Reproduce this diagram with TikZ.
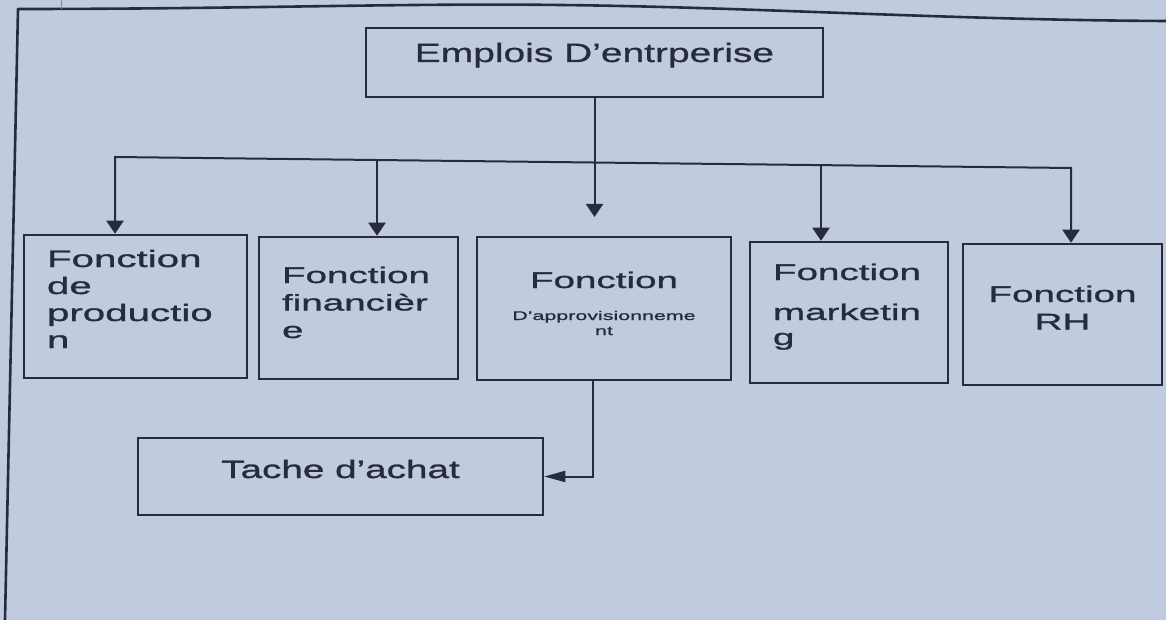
\documentclass[tikz,border=0pt]{standalone}
\usepackage{fontspec}
\setmainfont{Liberation Sans}
\newfontfamily\boxfont[FakeStretch=1.7,FakeBold=1.2]{Liberation Sans}
\newfontfamily\headfont[FakeStretch=1.47,FakeBold=0.8]{Liberation Sans}
\newfontfamily\taskfont[FakeStretch=1.54,FakeBold=1.2]{Liberation Sans}
\usetikzlibrary{arrows.meta}

\definecolor{paper}{RGB}{193,203,223}
\definecolor{ink}{RGB}{38,44,60}

\begin{document}
\begin{tikzpicture}[x=1pt,y=-1pt,
  frameline/.style={draw=ink, line width=2.6pt},
  box/.style={draw=ink, line width=2.5pt, rectangle, inner ysep=0pt,
    text=ink, text height=20pt},
  leftbox/.style={box, align=left, inner xsep=23pt},
  midbox/.style={box, align=center, inner xsep=22pt},
  fnt/.style={font=\boxfont\fontsize{22.7}{27.5}\selectfont},
  conn/.style={draw=ink, line width=2pt},
  downtip/.style={-{Triangle[length=13pt,width=17pt]}},
  bothtips/.style={{Triangle[length=13pt,width=17pt]}-{Triangle[length=13pt,width=17pt]}},
  lefttip/.style={-{Triangle[length=21pt,width=11pt]}}
]
% sheet
\fill[paper] (0,0) rectangle (1166,620);
\useasboundingbox (0,0) rectangle (1166,620);

% outer frame of the page
\draw[frameline, line join=round] (5,620) -- (18,9)
  .. controls (250,9) and (400,3) .. (560,5)
  .. controls (750,7) and (950,20) .. (1166,21);
\draw[ink!55, line width=1pt] (61,0) -- (61,9);

% top box
\node[box, font=\headfont\fontsize{26.5}{30}\selectfont,
  minimum width=457pt, minimum height=69pt, text depth=21pt]
  (emp) at (594.5,62.5) {Emplois D’entrperise};

% functions
\node[leftbox, font=\boxfont\fontsize{23.7}{27}\selectfont,
  minimum width=223pt, minimum height=143pt, text width=177pt, text depth=99pt]
  (prod) at (135.5,306.5) {Fonction\\de\\productio\\n};
\node[leftbox, fnt, minimum width=199pt, minimum height=142pt,
  text width=153pt, text depth=70pt]
  (fin) at (358.5,308) {Fonction\\financièr\\e};
\node[midbox, fnt, minimum width=254pt, minimum height=143pt,
  text width=210pt, text depth=61pt]
  (appro) at (604,308.5)
  {Fonction\\[17pt]{\fontsize{12.6}{15}\selectfont D’approvisionneme\\nt\par}};
\node[leftbox, fnt, minimum width=198pt, minimum height=141pt,
  text width=152pt, text depth=85pt]
  (mkt) at (849,312.5) {Fonction\\[12.5pt]marketin\\[-2.5pt]g};
\node[midbox, fnt, minimum width=199pt, minimum height=141pt,
  text width=155pt, text depth=45pt]
  (rh) at (1062.5,314.5) {Fonction\\RH};

% task box
\node[box, font=\taskfont\fontsize{25.1}{29}\selectfont,
  minimum width=405pt, minimum height=77pt, text depth=17pt]
  (achat) at (340.5,476.5) {Tache d’achat};

% distribution bus
\coordinate (d1) at (115,157);
\coordinate (d2) at (377,160);
\coordinate (d4) at (821,165);
\coordinate (d5) at (1071,168);
\coordinate (c3) at (594.5,217);

\draw[conn, bothtips] (d1 |- prod.north) -- (d1) -- (d5) -- (d5 |- rh.north);
\draw[conn, downtip] (d2) -- (d2 |- fin.north);
\draw[conn, downtip] (d4) -- (d4 |- mkt.north);
\draw[conn, downtip] (emp.south) -- (c3);
\draw[conn, lefttip] ([xshift=-11pt]appro.south) |- (achat.east);
\end{tikzpicture}
\end{document}
